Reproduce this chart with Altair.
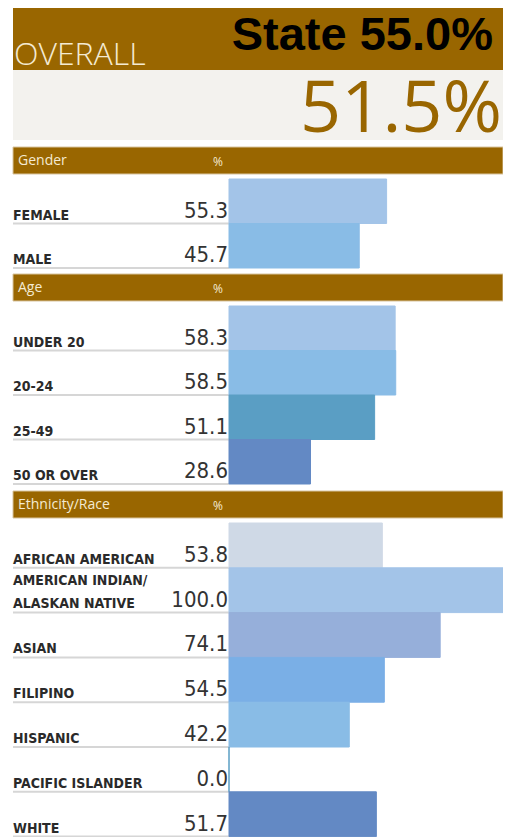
import altair as alt
import pandas as pd

# ---------------- data ----------------
overall_value = 51.5
state_value = 55.0

gender_labels = ["FEMALE", "MALE"]
gender_values = [55.3, 45.7]
gender_colors = ["#A3C4E8", "#89BCE6"]

age_labels = ["UNDER 20", "20-24", "25-49", "50 OR OVER"]
age_values = [58.3, 58.5, 51.1, 28.6]
age_colors = ["#A3C4E8", "#89BCE6", "#5A9EC4", "#6389C4"]

eth_labels = ["AFRICAN AMERICAN", "AMERICAN INDIAN/\nALASKAN NATIVE", "ASIAN",
              "FILIPINO", "HISPANIC", "PACIFIC ISLANDER", "WHITE"]
eth_values = [53.8, 100.0, 74.1, 54.5, 42.2, 0.0, 51.7]
eth_colors = ["#CFD9E6", "#A3C4E8", "#96AFDA", "#7AAFE6", "#89BCE6", "#5A9EC4", "#6389C4"]

# ---------------- style / layout ----------------
BROWN = "#996600"
CREAM = "#F4EAD2"
COND = "DejaVu Sans Condensed, sans-serif"
W = 495
H = 830
HDR_H = 27
GAP = 5
XSCALE = alt.Scale(domain=[0, 100], range=[221, 506])


def one(d):
    return pd.DataFrame([d])


def top_layers():
    base = alt.Chart(one({"a": 1}))
    brown = base.mark_rect(color=BROWN).encode(
        x=alt.value(5), x2=alt.value(W), y=alt.value(0), y2=alt.value(62))
    beige = base.mark_rect(color="#F3F2EE").encode(
        x=alt.value(5), x2=alt.value(W), y=alt.value(62), y2=alt.value(132))
    overall = alt.Chart(one({"t": "OVERALL"})).mark_text(
        align="left", baseline="alphabetic", font="Open Sans", fontSize=32,
        fontWeight=300, color=CREAM
    ).encode(text="t:N", x=alt.value(6), y=alt.value(57))
    state = alt.Chart(one({"t": f"State {state_value:.1f}%"})).mark_text(
        align="right", baseline="alphabetic", font="Liberation Sans", fontSize=47,
        fontWeight="bold", color="#000000"
    ).encode(text="t:N", x=alt.value(485), y=alt.value(42))
    big = alt.Chart(one({"t": f"{overall_value:.1f}%"})).mark_text(
        align="right", baseline="alphabetic", font="Open Sans", fontSize=72,
        fontWeight=400, color=BROWN
    ).encode(text="t:N", x=alt.value(494), y=alt.value(124))
    return [brown, beige, overall, state, big]


def section(title, labels, values, colors, top, row):
    n = len(labels)
    y0 = top + HDR_H + GAP
    df = pd.DataFrame({"key": labels, "value": values, "color": colors})
    single = df[~df["key"].str.contains("\n")]
    multi = df[df["key"].str.contains("\n")]
    ys = alt.Scale(type="band", domain=labels, range=[y0, y0 + n * row],
                   paddingInner=0, paddingOuter=0)

    def Y(**kw):
        return alt.Y("key:N", scale=ys, axis=None, **kw)

    hdr = alt.Chart(one({"t": title, "p": "%"}))
    header = hdr.mark_rect(color=BROWN, stroke="#D8C49E", strokeWidth=1).encode(
        x=alt.value(5), x2=alt.value(W), y=alt.value(top), y2=alt.value(top + HDR_H))
    htext = hdr.mark_text(align="left", baseline="middle", font="Open Sans",
                          fontSize=14, color=CREAM).encode(
        text="t:N", x=alt.value(10), y=alt.value(top + HDR_H / 2))
    ptext = hdr.mark_text(align="center", baseline="middle", font="Open Sans",
                          fontSize=12, color=CREAM).encode(
        text="p:N", x=alt.value(210), y=alt.value(top + HDR_H / 2 + 1))

    base = alt.Chart(df)
    bars = base.mark_bar(clip=True, strokeWidth=1).encode(
        x=alt.X("value:Q", scale=XSCALE, axis=None),
        y=Y(),
        color=alt.Color("color:N", scale=None),
        stroke=alt.Stroke("color:N", scale=None),
    )
    rules = base.mark_rule(color="#D6D6D6", strokeWidth=2).encode(
        x=alt.value(5), x2=alt.value(221), y=Y(bandPosition=1))
    vals = base.mark_text(align="right", baseline="alphabetic", dy=row / 2 - 6,
                          font=COND, fontSize=22, color="#333333").encode(
        x=alt.value(220), y=Y(), text=alt.Text("value:Q", format=".1f"))
    labs = alt.Chart(single).mark_text(align="left", baseline="alphabetic", dy=row / 2 - 4,
                                       font=COND, fontSize=14, fontWeight="bold",
                                       color="#2A2A2A").encode(
        x=alt.value(5), y=Y(), text="key:N")
    layers = [header, htext, ptext, rules, bars, vals, labs]
    if len(multi):
        mlabs = alt.Chart(multi).mark_text(align="left", baseline="alphabetic", dy=-5,
                                           lineBreak="\n", lineHeight=23,
                                           font=COND, fontSize=14, fontWeight="bold",
                                           color="#2A2A2A").encode(
            x=alt.value(5), y=Y(), text="key:N")
        layers.append(mlabs)
    return alt.layer(*layers)


chart = alt.layer(
    *top_layers(),
    section("Gender", gender_labels, gender_values, gender_colors, 139, 44.5),
    section("Age", age_labels, age_values, age_colors, 266, 44.5),
    section("Ethnicity/Race", eth_labels, eth_values, eth_colors, 483, 44.8),
).resolve_scale(y="independent").properties(
    width=W, height=H, padding=0, background="#FFFFFF",
    autosize=alt.AutoSizeParams(type="none"),
).configure_view(stroke=None)

chart.save("out.html", embed_options={"renderer": "svg", "actions": False})
